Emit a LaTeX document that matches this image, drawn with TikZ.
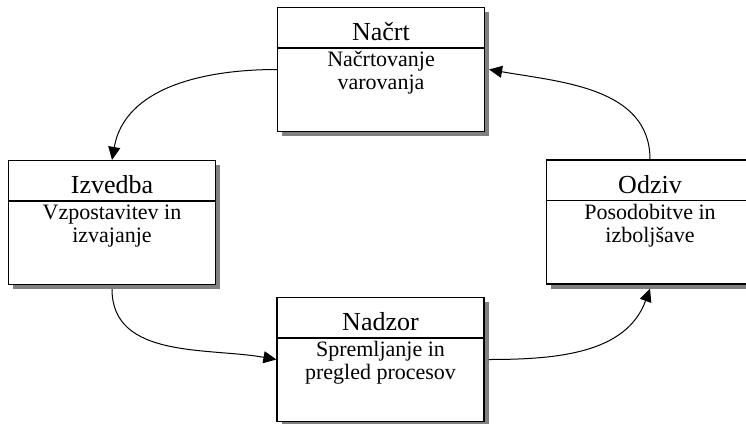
\documentclass[tikz,border=0pt]{standalone}
\usepackage{fontspec}
\setmainfont{Liberation Serif}
\usetikzlibrary{positioning,shadows,arrows.meta}

\begin{document}
\begin{tikzpicture}[x=1pt, y=1pt]
	\tikzset{blok/.style={draw=black, line width=1.2pt, fill=white, minimum width=207pt, minimum height=124pt, inner sep=0pt,
			drop shadow={shadow xshift=4.5pt, shadow yshift=-4.5pt, fill=black!50, opacity=1}},
		naslov/.style={font=\fontsize{26}{28}\selectfont, inner sep=0pt, anchor=base},
		opis/.style={font=\fontsize{22}{23}\selectfont, align=center, inner sep=0pt, anchor=base},
		crta/.style={line width=1.2pt},
		f/.style={-{Triangle[length=13pt, width=12pt]}, line width=1pt}};

	\useasboundingbox (0,0) rectangle (746,-423);
	\clip (0,0) rectangle (746,-423);

	\node[blok] (nacrt) at (381,-69.5) {};
	\node[blok] (izvedba) at (112,-222.5) {};
	\node[blok] (odziv) at (650,-222) {};
	\node[blok] (nadzor) at (380.5,-359.5) {};

	\node[naslov] (nacrtN) at ([yshift=-34pt]nacrt.north) {Načrt};
	\draw[crta] ([yshift=-41pt]nacrt.north west) -- ([yshift=-41pt]nacrt.north east);
	\node[opis] (nacrtO) at ([yshift=-83pt]nacrt.north) {Načrtovanje\\varovanja};

	\node[naslov] (izvedbaN) at ([yshift=-34pt]izvedba.north) {Izvedba};
	\draw[crta] ([yshift=-41pt]izvedba.north west) -- ([yshift=-41pt]izvedba.north east);
	\node[opis] (izvedbaO) at ([yshift=-83pt]izvedba.north) {Vzpostavitev in\\izvajanje};

	\node[naslov] (odzivN) at ([yshift=-34pt]odziv.north) {Odziv};
	\draw[crta] ([yshift=-41pt]odziv.north west) -- ([yshift=-41pt]odziv.north east);
	\node[opis] (odzivO) at ([yshift=-83pt]odziv.north) {Posodobitve in\\izboljšave};

	\node[naslov] (nadzorN) at ([yshift=-34pt]nadzor.north) {Nadzor};
	\draw[crta] ([yshift=-41pt]nadzor.north west) -- ([yshift=-41pt]nadzor.north east);
	\node[opis] (nadzorO) at ([yshift=-83pt]nadzor.north) {Spremljanje in\\pregled procesov};

	\draw[f] (nacrt.west) to[out=180, in=80] (izvedba.north);
	\draw[f] ([yshift=-4pt]izvedba.south) to[out=-90, in=170] (nadzor.west);
	\draw[f] ([xshift=4pt]nadzor.east) to[out=0, in=-110] ([yshift=-4pt]odziv.south);
	\draw[f] (odziv.north) to[out=90, in=-10] ([xshift=4pt]nacrt.east);
\end{tikzpicture}
\end{document}
